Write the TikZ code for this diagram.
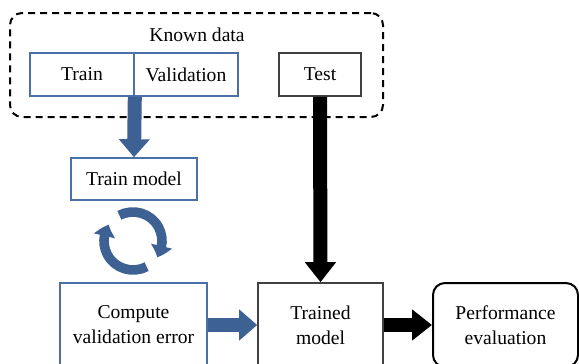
\documentclass[tikz,border=0pt]{standalone}
\usepackage{fontspec}
\setmainfont{Liberation Serif}
\usetikzlibrary{arrows.meta,bending}

\definecolor{boxblue}{RGB}{74,112,168}
\definecolor{arrowblue}{RGB}{62,97,148}
\definecolor{boxgray}{RGB}{64,64,64}

\tikzset{
    bluebox/.style={draw=boxblue,line width=0.8pt,inner sep=0pt,align=center},
    graybox/.style={draw=boxgray,line width=0.8pt,inner sep=0pt,align=center},
    groupbox/.style={draw,dashed,dash pattern=on 3.5pt off 2.5pt,line width=1pt,rounded corners=6pt,inner sep=0pt},
    bluearrow/.style={draw=arrowblue,line width=7pt,-{Triangle[width=15pt,length=9pt]}},
    blackarrow/.style={draw=black,line width=7pt,-{Triangle[width=15pt,length=10pt]}},
    cyclearrow/.style={draw=arrowblue,line width=4.8pt,-{Triangle[width=10.5pt,length=6pt,bend]}}
}

\begin{document}
\begin{tikzpicture}[x=0.5pt,y=0.5pt,font=\fontsize{9.8}{12.5}\selectfont]
                \clip (0,0) rectangle (579,-364);

                \node at (196.5,-65)[groupbox,minimum width=186.5pt,minimum height=52pt](known){};
                \node at (197,-35)(knownlabel){Known data};

                \node at (82,-74.5)[bluebox,minimum width=52pt,minimum height=21.5pt](train){Train};
                \node at (186,-74.5)[bluebox,minimum width=52pt,minimum height=21.5pt](valid){Validation};
                \node at (320,-74.5)[graybox,minimum width=41pt,minimum height=21.5pt](test){Test};

                \node at (134,-179)[bluebox,minimum width=63pt,minimum height=21pt](trainmodel){Train model};
                \node at (133.5,-325)[bluebox,minimum width=73.5pt,minimum height=42pt](compute){Compute\\validation error};
                \node at (320.5,-325)[graybox,minimum width=62.5pt,minimum height=42pt](trained){Trained\\model};
                \node at (505.5,-325)[draw,line width=1pt,rounded corners=6pt,inner sep=0pt,align=center,minimum width=72.5pt,minimum height=42pt](perf){Performance\\evaluation};

                \coordinate (cyc) at (133,-241);
                \foreach \a in {118,-62}
                    {
                        \draw[cyclearrow] (cyc) ++(\a:14.5pt) arc[start angle=\a,delta angle=-152,radius=14.5pt];
                    }

                \draw[bluearrow] (train.south east) -- (trainmodel.north);
                \draw[bluearrow] (compute.east) -- (trained.west);
                \draw[blackarrow] (test.south) -- (trained.north);
                \draw[blackarrow] (trained.east) -- (perf.west);
            \end{tikzpicture}
\end{document}
